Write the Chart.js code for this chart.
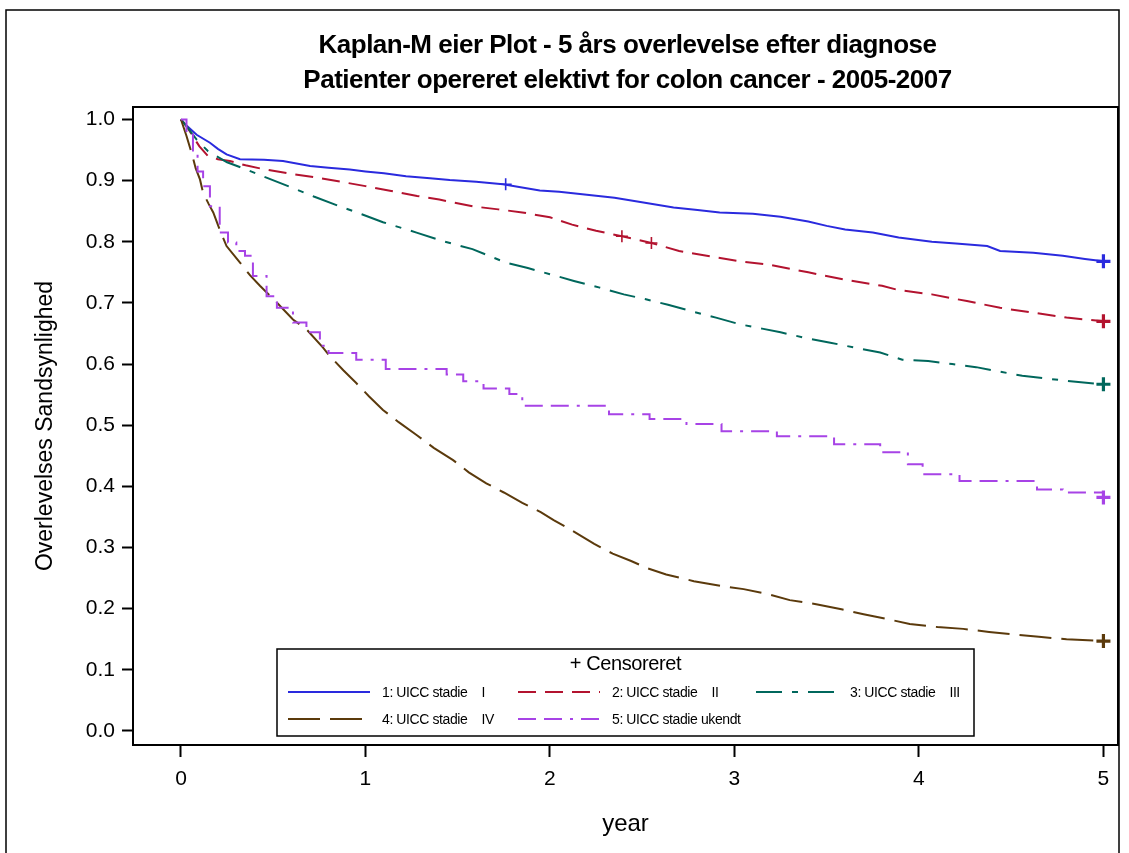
<!DOCTYPE html>
<html>
<head>
<meta charset="utf-8">
<title>Kaplan-Meier</title>
<script src="https://cdn.jsdelivr.net/npm/chart.js@4.4.1/dist/chart.umd.min.js"></script>
<style>
  html, body { margin: 0; padding: 0; background: #fff; }
  canvas { display: block; }
</style>
</head>
<body>
<canvas id="km" width="1129" height="853"></canvas>
<script>
const titleLines = [
  'Kaplan-M eier Plot - 5 års overlevelse efter diagnose',
  'Patienter opereret elektivt for colon cancer - 2005-2007'
];
const xTitle = 'year';
const yTitle = 'Overlevelses Sandsynlighed';
const xTicks = [0, 1, 2, 3, 4, 5];
const yTicks = [0, 0.1, 0.2, 0.3, 0.4, 0.5, 0.6, 0.7, 0.8, 0.9, 1.0];

const stageLabels = [
  '1: UICC stadie    I',
  '2: UICC stadie    II',
  '3: UICC stadie    III',
  '4: UICC stadie    IV',
  '5: UICC stadie ukendt'
];
const stageColors = ['#2a2ade', '#b3132f', '#00675c', '#5b3a0c', '#a743e6'];
const stageDash = [[], [18, 9], [26, 10, 6, 10], [32, 10], [18, 8, 18, 8, 3, 8]];

// survival estimates (time in years, survival probability)
const timeI = [0, 0.03, 0.085, 0.157, 0.2, 0.247, 0.32, 0.45, 0.553, 0.7, 0.8, 0.915, 1.0, 1.1, 1.22, 1.35, 1.457, 1.6, 1.745, 1.945, 2.05, 2.2, 2.35, 2.49, 2.67, 2.8, 2.92, 3.1, 3.25, 3.4, 3.5, 3.6, 3.75, 3.89, 4.07, 4.2, 4.37, 4.44, 4.62, 4.78, 4.9, 5.0];
const survI = [1.0, 0.99, 0.975, 0.962, 0.952, 0.943, 0.935, 0.934, 0.932, 0.924, 0.921, 0.918, 0.915, 0.912, 0.907, 0.904, 0.901, 0.898, 0.894, 0.884, 0.882, 0.877, 0.872, 0.865, 0.856, 0.852, 0.848, 0.846, 0.841, 0.833, 0.826, 0.82, 0.815, 0.807, 0.8, 0.797, 0.793, 0.785, 0.782, 0.777, 0.772, 0.768];

const timeII = [0, 0.03, 0.07, 0.1, 0.147, 0.2, 0.265, 0.35, 0.46, 0.6, 0.735, 0.87, 1.0, 1.14, 1.28, 1.4, 1.58, 1.72, 1.85, 2.0, 2.12, 2.25, 2.39, 2.55, 2.7, 2.85, 3.03, 3.2, 3.4, 3.6, 3.8, 3.89, 4.07, 4.26, 4.44, 4.62, 4.8, 5.0];
const survII = [1.0, 0.989, 0.97, 0.956, 0.94, 0.935, 0.932, 0.925, 0.918, 0.911, 0.905, 0.898, 0.891, 0.883, 0.875, 0.869, 0.858, 0.853, 0.848, 0.84, 0.828, 0.818, 0.809, 0.798, 0.785, 0.777, 0.768, 0.762, 0.75, 0.738, 0.728, 0.721, 0.714, 0.703, 0.692, 0.684, 0.676, 0.67];

const timeIII = [0, 0.04, 0.085, 0.147, 0.25, 0.356, 0.445, 0.59, 0.72, 0.86, 0.98, 1.095, 1.277, 1.42, 1.58, 1.76, 1.88, 2.0, 2.13, 2.27, 2.4, 2.52, 2.64, 2.76, 2.9, 3.03, 3.15, 3.25, 3.38, 3.52, 3.65, 3.79, 3.91, 4.05, 4.18, 4.31, 4.45, 4.56, 4.7, 4.85, 5.0];
const survIII = [1.0, 0.985, 0.967, 0.948, 0.93, 0.918, 0.907, 0.89, 0.874, 0.858, 0.845, 0.832, 0.815, 0.801, 0.788, 0.766, 0.757, 0.747, 0.736, 0.725, 0.714, 0.706, 0.697, 0.687, 0.676, 0.665, 0.658, 0.652, 0.643, 0.635, 0.627, 0.619, 0.607, 0.605, 0.6, 0.595, 0.587, 0.581, 0.576, 0.571, 0.567];

const timeIV = [0, 0.03, 0.058, 0.08, 0.103, 0.12, 0.15, 0.175, 0.21, 0.247, 0.32, 0.375, 0.428, 0.518, 0.607, 0.68, 0.77, 0.807, 0.88, 0.95, 1.02, 1.095, 1.18, 1.277, 1.37, 1.475, 1.56, 1.655, 1.75, 1.85, 1.95, 2.02, 2.107, 2.24, 2.34, 2.44, 2.53, 2.63, 2.78, 2.93, 3.05, 3.18, 3.3, 3.45, 3.58, 3.7, 3.83, 3.95, 4.1, 4.24, 4.38, 4.51, 4.65, 4.8, 5.0];
const survIV = [1.0, 0.973, 0.945, 0.92, 0.902, 0.88, 0.862, 0.848, 0.82, 0.793, 0.766, 0.745, 0.728, 0.701, 0.673, 0.657, 0.627, 0.613, 0.59, 0.569, 0.547, 0.525, 0.505, 0.484, 0.463, 0.443, 0.423, 0.405, 0.39, 0.373, 0.358, 0.345, 0.33, 0.306, 0.29, 0.278, 0.266, 0.256, 0.245, 0.237, 0.232, 0.224, 0.214, 0.207, 0.199, 0.191, 0.183, 0.175, 0.17, 0.167, 0.162, 0.158, 0.154, 0.15, 0.147];

const timeUkendt = [0, 0.03, 0.065, 0.09, 0.12, 0.157, 0.21, 0.255, 0.3, 0.347, 0.39, 0.464, 0.52, 0.607, 0.68, 0.753, 0.8, 0.95, 1.11, 1.44, 1.53, 1.64, 1.78, 1.85, 2.32, 2.54, 2.74, 2.93, 3.23, 3.54, 3.79, 3.94, 4.02, 4.22, 4.64, 4.78, 5.0];
const survUkendt = [1.0, 0.978, 0.943, 0.915, 0.891, 0.858, 0.815, 0.799, 0.785, 0.777, 0.744, 0.711, 0.692, 0.668, 0.652, 0.63, 0.618, 0.607, 0.592, 0.583, 0.572, 0.56, 0.551, 0.532, 0.518, 0.51, 0.502, 0.49, 0.482, 0.469, 0.456, 0.436, 0.42, 0.409, 0.395, 0.39, 0.382];

// censoring times per stage
const censorI = [1.76, 5.0];
const censorII = [2.39, 2.55, 5.0];
const censorIII = [5.0];
const censorIV = [5.0];
const censorUkendt = [5.0];

const times = [timeI, timeII, timeIII, timeIV, timeUkendt];
const survs = [survI, survII, survIII, survIV, survUkendt];
const censors = [censorI, censorII, censorIII, censorIV, censorUkendt];
// the large groups have many small steps, drawn as a running line;
// the small "ukendt" group keeps visible stair steps
const stepMode = [false, false, false, false, true];

// step function lookup: value at the last event time <= t
function survAt(ts, ss, t) {
  let v = ss[0];
  for (let i = 0; i < ts.length; i++) {
    if (ts[i] <= t) v = ss[i];
  }
  return v;
}

const FONT = "'Liberation Sans', Arial, Helvetica, sans-serif";

const curveSets = times.map((ts, k) => ({
  type: 'line',
  label: stageLabels[k],
  data: ts.map((t, i) => ({ x: t, y: survs[k][i] })),
  stepped: stepMode[k],
  borderColor: stageColors[k],
  borderWidth: 2,
  borderDash: stageDash[k],
  pointRadius: 0,
  fill: false,
  order: 10 - k
}));

const censorSets = censors.map((cs, k) => ({
  type: 'scatter',
  label: stageLabels[k] + ' censor',
  data: cs.map(t => ({ x: t, y: survAt(times[k], survs[k], t) })),
  pointStyle: 'cross',
  pointRadius: ctx => (ctx.raw && ctx.raw.x >= 5 ? 7 : 6),
  pointBorderWidth: ctx => (ctx.raw && ctx.raw.x >= 5 ? 3.2 : 1.6),
  borderColor: stageColors[k],
  backgroundColor: stageColors[k],
  order: 0
}));

const framePlugin = {
  id: 'frame',
  afterDraw(chart) {
    const { ctx, chartArea: a } = chart;
    ctx.save();
    ctx.strokeStyle = '#000';
    ctx.lineWidth = 2;
    ctx.strokeRect(a.left, a.top, a.right - a.left, a.bottom - a.top);
    // page border
    ctx.lineWidth = 1.5;
    ctx.strokeRect(6, 10, 1113, 900);
    ctx.restore();
  }
};

const titlePlugin = {
  id: 'kmTitle',
  afterDraw(chart) {
    const { ctx, chartArea: a } = chart;
    const cx = (a.left + a.right) / 2 + 2;
    ctx.save();
    ctx.fillStyle = '#000';
    ctx.font = 'bold 26px ' + FONT;
    ctx.textAlign = 'center';
    ctx.textBaseline = 'middle';
    if ('letterSpacing' in ctx) ctx.letterSpacing = '-0.5px';
    ctx.fillText(titleLines[0], cx, 46);
    ctx.fillText(titleLines[1], cx, 81);
    ctx.restore();
  }
};

const legendPlugin = {
  id: 'kmLegend',
  afterDraw(chart) {
    const { ctx } = chart;
    const box = { left: 277, top: 649, right: 974, bottom: 736 };
    ctx.save();
    ctx.fillStyle = '#fff';
    ctx.fillRect(box.left, box.top, box.right - box.left, box.bottom - box.top);
    ctx.strokeStyle = '#000';
    ctx.lineWidth = 1.5;
    ctx.strokeRect(box.left, box.top, box.right - box.left, box.bottom - box.top);

    ctx.fillStyle = '#000';
    ctx.textBaseline = 'middle';
    ctx.textAlign = 'center';
    ctx.font = '20px ' + FONT;
    if ('letterSpacing' in ctx) ctx.letterSpacing = '-0.4px';
    ctx.fillText('+ Censoreret', (box.left + box.right) / 2, 664);

    const cols = [288, 518, 756];
    const rows = [692, 719];
    ctx.font = '14px ' + FONT;
    ctx.textAlign = 'left';
    stageLabels.forEach((lab, k) => {
      const col = cols[k % 3];
      const row = rows[Math.floor(k / 3)];
      ctx.strokeStyle = stageColors[k];
      ctx.lineWidth = 2;
      ctx.setLineDash(stageDash[k]);
      ctx.beginPath();
      ctx.moveTo(col, row);
      ctx.lineTo(col + 82, row);
      ctx.stroke();
      ctx.setLineDash([]);
      ctx.fillText(lab, col + 94, row + 1);
    });
    ctx.restore();
  }
};

new Chart(document.getElementById('km'), {
  data: { datasets: [...curveSets, ...censorSets] },
  options: {
    responsive: false,
    animation: false,
    devicePixelRatio: 1,
    layout: { padding: { top: 107, left: 0, right: 11, bottom: 0 } },
    plugins: {
      legend: { display: false },
      tooltip: { enabled: false },
      title: { display: false }
    },
    scales: {
      x: {
        type: 'linear',
        min: -0.26,
        max: 5.079,
        afterBuildTicks: axis => { axis.ticks = xTicks.map(v => ({ value: v })); },
        afterFit: scale => { scale.height = 108; },
        ticks: {
          autoSkip: false,
          maxRotation: 0,
          color: '#000',
          padding: 10,
          font: { family: FONT, size: 21 },
          callback: v => String(v)
        },
        grid: { drawOnChartArea: false, drawTicks: true, tickLength: 12, tickWidth: 2, tickColor: '#000' },
        border: { display: true, color: '#000', width: 2 },
        title: {
          display: true,
          text: xTitle,
          color: '#000',
          font: { family: FONT, size: 24 },
          padding: { top: 0, bottom: 14 }
        }
      },
      y: {
        type: 'linear',
        min: -0.0229,
        max: 1.0204,
        afterBuildTicks: axis => { axis.ticks = yTicks.map(v => ({ value: v })); },
        afterFit: scale => { scale.width = 133; },
        ticks: {
          autoSkip: false,
          color: '#000',
          padding: 7,
          font: { family: FONT, size: 21 },
          callback: v => Number(v).toFixed(1)
        },
        grid: { drawOnChartArea: false, drawTicks: true, tickLength: 11, tickWidth: 2, tickColor: '#000' },
        border: { display: true, color: '#000', width: 2 },
        title: {
          display: true,
          text: yTitle,
          color: '#000',
          font: { family: FONT, size: 23 },
          padding: { top: 32, bottom: 0 }
        }
      }
    }
  },
  plugins: [framePlugin, titlePlugin, legendPlugin]
});
</script>
</body>
</html>
